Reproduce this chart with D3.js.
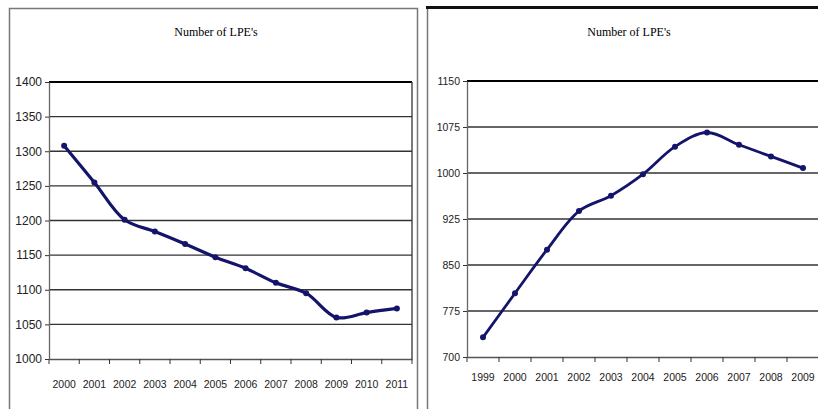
<!DOCTYPE html>
<html>
<head>
<meta charset="utf-8">
<script src="https://cdn.jsdelivr.net/npm/d3@7"></script>
<style>
  body { margin: 0; background: #fff; }
  svg { display: block; }
</style>
</head>
<body>
<div id="chart"></div>
<script>
// data
var leftYears = ["2000","2001","2002","2003","2004","2005","2006","2007","2008","2009","2010","2011"];
var leftValues = [1308, 1255, 1201, 1184, 1166, 1147, 1131, 1110, 1095, 1060, 1067, 1073];
var leftTicks = [1000, 1050, 1100, 1150, 1200, 1250, 1300, 1350, 1400];

var rightYears = ["1999","2000","2001","2002","2003","2004","2005","2006","2007","2008","2009"];
var rightValues = [732, 804, 875, 938, 963, 998, 1043, 1066, 1046, 1027, 1008];
var rightTicks = [700, 775, 850, 925, 1000, 1075, 1150];

var svg = d3.select("#chart")
  .append("svg")
    .attr("width", 818)
    .attr("height", 409);

var navy = "#14146a";

// panel frames
svg.append("rect")
  .attr("x", 9.5).attr("y", 8.5)
  .attr("width", 408).attr("height", 420)
  .attr("fill", "none").attr("stroke", "#777").attr("stroke-width", 1.5);

svg.append("line")
  .attr("x1", 427.5).attr("x2", 427.5).attr("y1", 7).attr("y2", 409)
  .attr("stroke", "#777").attr("stroke-width", 1.5);
svg.append("line")
  .attr("x1", 426).attr("x2", 818).attr("y1", 7.5).attr("y2", 7.5)
  .attr("stroke", "#111").attr("stroke-width", 3);

function drawPanel(opt) {
  var g = svg.append("g");

  var x = d3.scaleBand()
    .domain(opt.years)
    .range([opt.x0, opt.x1]);

  var y = d3.scaleLinear()
    .domain([opt.ticks[0], opt.ticks[opt.ticks.length - 1]])
    .range([opt.y0, opt.y1]);

  // title
  g.append("text")
    .attr("x", opt.titleX)
    .attr("y", 36)
    .attr("text-anchor", "middle")
    .style("font-family", "'Liberation Serif', 'Times New Roman', serif")
    .style("font-size", "12px")
    .text("Number of LPE's");

  // gridlines
  g.selectAll("line.grid")
    .data(opt.ticks.slice(1))
    .enter()
    .append("line")
      .attr("class", "grid")
      .attr("x1", opt.x0).attr("x2", opt.x1)
      .attr("y1", function(d) { return y(d); })
      .attr("y2", function(d) { return y(d); })
      .attr("stroke", function(d, i) { return i == opt.ticks.length - 2 ? "#000" : "#333"; })
      .attr("stroke-width", function(d, i) { return i == opt.ticks.length - 2 ? 2.2 : 1.3; });

  if (opt.rightBorder) {
    g.append("line")
      .attr("x1", opt.x1).attr("x2", opt.x1)
      .attr("y1", opt.y1).attr("y2", opt.y0)
      .attr("stroke", "#333").attr("stroke-width", 1.3);
  }

  // y axis
  var yAxis = g.append("g")
    .attr("transform", "translate(" + opt.x0 + ",0)")
    .call(d3.axisLeft(y).tickValues(opt.ticks).tickFormat(d3.format("d"))
      .tickSize(4).tickPadding(3).tickSizeOuter(0));
  yAxis.select(".domain").attr("stroke", "#666").attr("stroke-width", 1.3);
  yAxis.selectAll(".tick line").attr("stroke", "#333");
  yAxis.selectAll("text")
    .style("font-family", "'Liberation Sans', Arial, sans-serif")
    .style("font-size", opt.yFont)
    .attr("fill", "#222");

  // x axis
  var xAxis = g.append("g")
    .attr("transform", "translate(0," + opt.y0 + ")")
    .call(d3.axisBottom(x).tickSize(0).tickPadding(opt.xPad));
  xAxis.select(".domain").attr("stroke", "#555").attr("stroke-width", 1.3);
  xAxis.selectAll("text")
    .style("font-family", "'Liberation Sans', Arial, sans-serif")
    .style("font-size", "10.5px")
    .attr("fill", "#222");

  // ticks between categories
  var bounds = opt.years.map(function(d) { return x(d); }).concat([opt.x1]);
  g.selectAll("line.xtick")
    .data(bounds)
    .enter()
    .append("line")
      .attr("class", "xtick")
      .attr("x1", function(d) { return d; })
      .attr("x2", function(d) { return d; })
      .attr("y1", opt.y0).attr("y2", opt.y0 + 5)
      .attr("stroke", "#333").attr("stroke-width", 1);

  // series line
  var line = d3.line()
    .x(function(d, i) { return x(opt.years[i]) + x.bandwidth() / 2; })
    .y(function(d) { return y(d); })
    .curve(d3.curveCatmullRom.alpha(0.5));

  g.append("path")
    .datum(opt.values)
    .attr("fill", "none")
    .attr("stroke", navy)
    .attr("stroke-width", opt.lineWidth)
    .attr("stroke-linejoin", "round")
    .attr("d", line);

  g.selectAll("circle.pt")
    .data(opt.values)
    .enter()
    .append("circle")
      .attr("class", "pt")
      .attr("cx", function(d, i) { return x(opt.years[i]) + x.bandwidth() / 2; })
      .attr("cy", function(d) { return y(d); })
      .attr("r", 3)
      .attr("fill", navy);
}

drawPanel({
  years: leftYears, values: leftValues, ticks: leftTicks,
  x0: 49, x1: 412, y0: 359, y1: 82,
  titleX: 216, rightBorder: true, yFont: "12px", xPad: 22, lineWidth: 3.2
});

drawPanel({
  years: rightYears, values: rightValues, ticks: rightTicks,
  x0: 467, x1: 819, y0: 357, y1: 81,
  titleX: 629, rightBorder: false, yFont: "10.5px", xPad: 17, lineWidth: 2.8
});
</script>
</body>
</html>
